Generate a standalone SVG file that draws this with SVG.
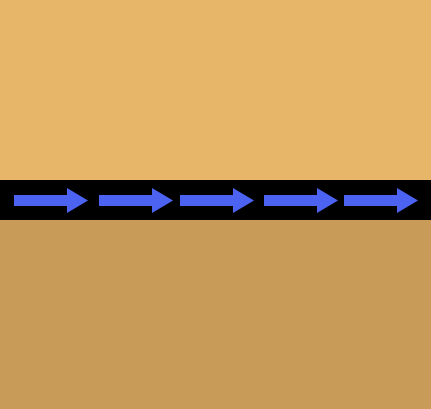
<svg xmlns="http://www.w3.org/2000/svg" width="431" height="409" viewBox="0 0 431 409">
<style>
.arrow{fill:#4C63F2}
</style>
<defs>
<path id="arr" class="arrow" d="M0,-5.5 L53,-5.5 L53,-12.5 L74,0 L53,12.5 L53,5.5 L0,5.5 Z"/>
</defs>
<rect x="0" y="0" width="431" height="180" fill="#E8B669"/>
<rect x="0" y="220" width="431" height="189" fill="#C99B58"/>
<rect x="0" y="180" width="431" height="40" fill="#000000"/>
<g id="connectors">
<use href="#arr" x="14" y="200.5"/>
<use href="#arr" x="99" y="200.5"/>
<use href="#arr" x="180" y="200.5"/>
<use href="#arr" x="264" y="200.5"/>
<use href="#arr" x="344" y="200.5"/>
</g>
</svg>
